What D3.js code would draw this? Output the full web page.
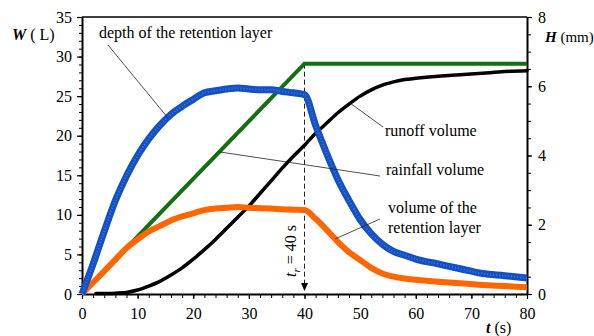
<!DOCTYPE html>
<html><head><meta charset="utf-8">
<script src="https://cdn.jsdelivr.net/npm/d3@7"></script>
<style>
body{margin:0;background:#fff;}
</style></head>
<body><svg id="c" width="594" height="336"></svg>
<script>
// ---- data ----
const timeS = [0,2,4,6,8,10,12,14,16,18,20,22,24,26,28,30,32,34,36,38,40,42,44,46,48,50,52,54,56,58,60,64,68,72,76,80];
// depth of the retention layer, H (mm)
const depthH = [0,0.87,1.81,2.70,3.41,4.00,4.48,4.87,5.19,5.42,5.62,5.81,5.87,5.92,5.95,5.92,5.90,5.90,5.85,5.81,5.76,4.87,4.05,3.31,2.70,2.15,1.74,1.44,1.23,1.12,1.01,0.87,0.73,0.59,0.53,0.46];
// volume of the retention layer, W (L)
const retentionW = [0,1.45,2.9,4.35,5.8,6.9,7.9,8.6,9.3,9.8,10.2,10.6,10.8,10.9,11.0,10.9,10.85,10.8,10.7,10.65,10.6,9.5,8.1,6.6,5.3,4.3,3.3,2.6,2.2,1.95,1.8,1.55,1.35,1.15,1.0,0.85];
// runoff volume, W (L)
const runoffT = [2.5,4,6,8,10,12,14,16,18,20,22,24,26,28,30,32,34,36,38,40,42,44,46,48,50,52,54,56,58,60,64,68,72,76,80];
const runoffW = [0.05,0.05,0.1,0.2,0.5,1.0,1.6,2.4,3.3,4.4,5.6,6.9,8.3,9.7,11.1,12.7,14.3,15.9,17.4,18.8,20.3,21.6,22.9,24.0,25.0,25.8,26.4,26.8,27.1,27.25,27.5,27.7,27.9,28.1,28.2];
// rainfall volume, W (L)
const rainT = [0,40,80];
const rainW = [0,29.1,29.1];
const tr = 40;
const xTicks = [0,10,20,30,40,50,60,70,80];
const wTicks = [0,5,10,15,20,25,30,35];
const hTicks = [0,2,4,6,8];

const FONT = '"Liberation Serif","DejaVu Serif","Times New Roman",serif';

// ---- layout ----
const L=82, R=527, T=17, B=294;
const svg = d3.select("#c");
const x = d3.scaleLinear().domain([0,80]).range([L,R]);
const yW = d3.scaleLinear().domain([0,35]).range([B,T]);
const yH = d3.scaleLinear().domain([0,8]).range([B,T]);

// minor ticks
const gMinor = svg.append("g");
gMinor.append("g").attr("transform",`translate(${L},0)`)
  .call(d3.axisLeft(yW).tickValues(d3.range(0,36,1)).tickSize(3).tickFormat(""));
gMinor.append("g").attr("transform",`translate(0,${B})`)
  .call(d3.axisBottom(x).tickValues(d3.range(0,81,2)).tickSize(4).tickFormat(""));
gMinor.append("g").attr("transform",`translate(${R},0)`)
  .call(d3.axisRight(yH).tickValues(d3.range(0,8.01,0.5)).tickSize(4).tickFormat(""));
gMinor.selectAll(".domain").remove();
gMinor.selectAll("line").attr("stroke","#000").attr("stroke-width",1);

// major axes
const ax1 = svg.append("g").attr("transform",`translate(${L},0)`)
  .call(d3.axisLeft(yW).tickValues(wTicks).tickSize(5).tickPadding(5).tickSizeOuter(0));
const ax2 = svg.append("g").attr("transform",`translate(0,${B})`)
  .call(d3.axisBottom(x).tickValues(xTicks).tickSize(5).tickPadding(9).tickSizeOuter(0));
const ax3 = svg.append("g").attr("transform",`translate(${R},0)`)
  .call(d3.axisRight(yH).tickValues(hTicks).tickSize(5).tickPadding(6).tickSizeOuter(0));
[ax1,ax2,ax3].forEach(a=>{
  a.attr("font-family",FONT).attr("font-size",16);
  a.selectAll("text").attr("font-family",FONT).attr("font-size",16).attr("fill","#000");
  a.selectAll("line").attr("stroke","#000").attr("stroke-width",1.2);
  a.select(".domain").attr("stroke","#000").attr("stroke-width",2);
});
// top frame
svg.append("line").attr("x1",L).attr("x2",R).attr("y1",T).attr("y2",T).attr("stroke","#000").attr("stroke-width",1.6);

// ---- series ----
const lineW = (tt,vv)=>d3.line().curve(d3.curveMonotoneX).x((d,i)=>x(tt[i])).y(d=>yW(d))(vv);
const lineH = (tt,vv)=>d3.line().curve(d3.curveMonotoneX).x((d,i)=>x(tt[i])).y(d=>yH(d))(vv);

// dashed tr line
svg.append("line").attr("x1",x(tr)).attr("x2",x(tr)).attr("y1",yW(29.1)).attr("y2",B-6)
  .attr("stroke","#222").attr("stroke-width",1).attr("stroke-dasharray","5,3");
svg.append("path").attr("d",`M${x(tr)-3.5},${B-11} L${x(tr)+3.5},${B-11} L${x(tr)},${B-3} Z`).attr("fill","#000");

svg.append("path").attr("d",d3.line().x((d,i)=>x(rainT[i])).y(d=>yW(d))(rainW))
  .attr("fill","none").attr("stroke","#127012").attr("stroke-width",4);
svg.append("path").attr("d",lineW(runoffT,runoffW))
  .attr("fill","none").attr("stroke","#000").attr("stroke-width",3.5).attr("stroke-linecap","round");
svg.append("path").attr("d",lineW(timeS,retentionW))
  .attr("fill","none").attr("stroke","#ff6600").attr("stroke-width",6).attr("stroke-linejoin","round");
svg.append("path").attr("d",lineH(timeS,depthH))
  .attr("fill","none").attr("stroke","#1350c4").attr("stroke-width",7).attr("stroke-linejoin","round");
svg.append("path").attr("d",lineH(timeS,depthH))
  .attr("fill","none").attr("stroke","#6f9de6").attr("stroke-width",2).attr("stroke-dasharray","1,2").attr("opacity",0.5);

// ---- annotations ----
const lead = (x1,y1,x2,y2)=>svg.append("line").attr("x1",x1).attr("y1",y1).attr("x2",x2).attr("y2",y2)
  .attr("stroke","#222").attr("stroke-width",0.8);
const txt = (s,xx,yy)=>svg.append("text").attr("x",xx).attr("y",yy)
  .attr("font-family",FONT).attr("font-size",16).text(s);
txt("depth of the retention layer",99,38);
lead(108,45,168,118);
txt("runoff volume",385,136);
lead(383,127,350,103);
txt("rainfall volume",386,175);
lead(380,176,220,152);
txt("volume of the",388,213);
txt("retention layer",388,233);
lead(380,219,335,239);

// tr label (rotated)
const tl = svg.append("text").attr("transform",`translate(296,277) rotate(-90)`)
  .attr("font-family",FONT).attr("font-size",16);
tl.append("tspan").attr("font-style","italic").text("t");
tl.append("tspan").attr("font-style","italic").attr("font-size",11).attr("dy",4).text("r");
tl.append("tspan").attr("dy",-4).text(" = 40 s");

// axis titles
const wt = svg.append("text").attr("x",12).attr("y",40).attr("font-family",FONT).attr("font-size",16);
wt.append("tspan").attr("font-weight","bold").attr("font-style","italic").text("W");
wt.append("tspan").text(" ( L)");
const ht = svg.append("text").attr("x",545).attr("y",42).attr("font-family",FONT).attr("font-size",15);
ht.append("tspan").attr("font-weight","bold").attr("font-style","italic").text("H");
ht.append("tspan").text(" (mm)");
const tt = svg.append("text").attr("x",486).attr("y",333).attr("font-family",FONT).attr("font-size",16);
tt.append("tspan").attr("font-weight","bold").attr("font-style","italic").text("t");
tt.append("tspan").text("  (s)");
</script></body></html>
